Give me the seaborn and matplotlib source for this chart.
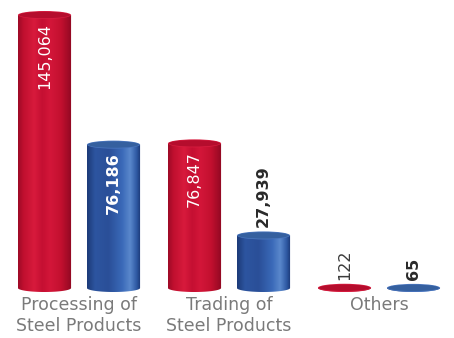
import numpy as np
import pandas as pd
import matplotlib
matplotlib.use("Agg")
import matplotlib.pyplot as plt
import seaborn as sns
from matplotlib.patches import Ellipse, PathPatch
from matplotlib.path import Path
from matplotlib.colors import LinearSegmentedColormap

# --- data -------------------------------------------------------------
categories = ["Processing of\nSteel Products", "Trading of\nSteel Products", "Others"]
series = ["Current", "Previous"]
red_values = [145064, 76847, 122]
blue_values = [76186, 27939, 65]

df = pd.DataFrame({
    "category": categories * 2,
    "series": [series[0]] * 3 + [series[1]] * 3,
    "value": red_values + blue_values,
})

RED = "#cc1236"
BLUE = "#2c56a3"

sns.set_theme(style="white")
plt.rcParams["font.family"] = ["DejaVu Sans"]

W, H = 454, 338
fig = plt.figure(figsize=(W / 100, H / 100), dpi=100)
ax_bottom_px = 46
ax = fig.add_axes([0, ax_bottom_px / H, 1, 1 - ax_bottom_px / H])

sns.barplot(data=df, x="category", y="value", hue="series",
            palette=[RED, BLUE], width=0.92, gap=0.23, saturation=1,
            legend=False, ax=ax)

# pixel -> data scale on the y axis
scale = 531.0
ax.set_xlim(-79 / 150, (W - 79) / 150)
ax.set_ylim(-4 * scale, 145064 + 15 * scale)
ax_h_px = H - ax_bottom_px
yr = ax.get_ylim()
ypp = (yr[1] - yr[0]) / ax_h_px      # data units per pixel

for s in ax.spines.values():
    s.set_visible(False)
ax.set_yticks([])
ax.set_xlabel("")
ax.set_ylabel("")
ax.tick_params(axis="x", length=0, pad=3, labelsize=12.5, labelcolor="#7a7a7a")

red_cmap = LinearSegmentedColormap.from_list("redcyl", [
    (0.00, "#9c0a26"), (0.10, "#c0102f"), (0.30, "#d81a3c"), (0.45, "#c50f32"),
    (0.60, "#d31639"), (0.80, "#c3102f"), (1.00, "#8f0822")])
blue_cmap = LinearSegmentedColormap.from_list("bluecyl", [
    (0.00, "#1c3a78"), (0.15, "#2d55a0"), (0.40, "#2a4f98"), (0.65, "#3a69b8"),
    (0.80, "#5a88cc"), (0.92, "#2f5aa4"), (1.00, "#1a3672")])
cap_colors = {0: ("#b50d2d", "#d81d40"), 1: ("#35609f", "#4a76bf")}

ell_h = 8 * ypp
grad = np.linspace(0, 1, 256).reshape(1, -1)

bars = list(ax.patches)
all_values = red_values + blue_values
for i, bar in enumerate(bars):
    grp = 0 if i < 3 else 1
    x0 = bar.get_x()
    w = bar.get_width()
    h = bar.get_height()
    cx = x0 + w / 2
    bar.set_visible(False)

    # cylinder body: rectangle with a rounded (half-ellipse) bottom
    t = np.linspace(np.pi, 2 * np.pi, 40)
    arc = np.column_stack([cx + (w / 2) * np.cos(t), (ell_h / 2) * np.sin(t)])
    verts = np.vstack([[x0, h], [x0, 0], arc[1:-1], [x0 + w, 0], [x0 + w, h], [x0, h]])
    codes = [Path.MOVETO] + [Path.LINETO] * (len(verts) - 2) + [Path.CLOSEPOLY]
    body = PathPatch(Path(verts, codes), transform=ax.transData,
                     facecolor="none", edgecolor="none")
    ax.add_patch(body)
    im = ax.imshow(grad, extent=[x0, x0 + w, -ell_h, h], aspect="auto",
                   cmap=red_cmap if grp == 0 else blue_cmap, zorder=2,
                   interpolation="bicubic")
    im.set_clip_path(body)

    # top cap
    rim, inner = cap_colors[grp]
    ax.add_patch(Ellipse((cx, h), w, ell_h, facecolor=inner, edgecolor="none", zorder=3))
    ax.add_patch(Ellipse((cx, h), w * 0.96, ell_h * 0.8, facecolor=rim,
                         edgecolor="none", zorder=3))

    # value label, rotated
    v = all_values[i]
    txt = f"{v:,}"
    weight = "normal" if grp == 0 else "bold"
    if h > 40 * ypp * 2.2 and (grp == 0 or v > 50000):
        ax.text(cx, h - 8 * ypp, txt, rotation=90, ha="center", va="top",
                color="white", fontsize=11.5, fontweight=weight, zorder=4)
    else:
        ax.text(cx, h + 8 * ypp, txt, rotation=90, ha="center", va="bottom",
                color="#2a2a2a" if grp == 1 else "#3a3a3a",
                fontsize=11.5, fontweight=weight, zorder=4)

ax.set_xlim(-79 / 150, (W - 79) / 150)
ax.set_ylim(*yr)
fig.savefig("out.png", dpi=100, facecolor="white")
